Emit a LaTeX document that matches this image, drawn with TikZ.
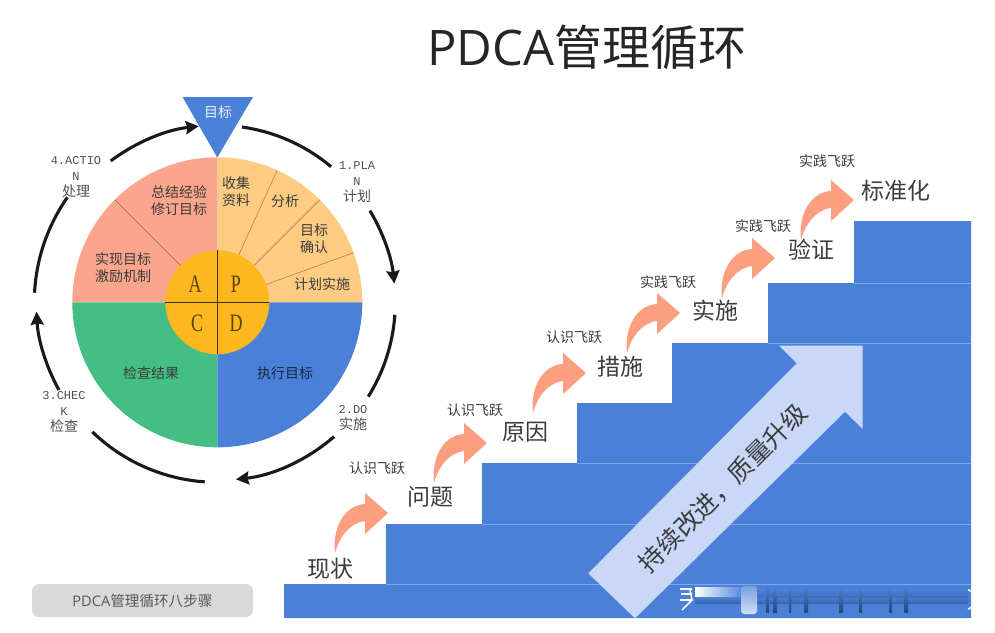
\documentclass[tikz,border=0pt]{standalone}
\usepackage{fontspec}
\setmainfont{Noto Sans CJK SC}
\newfontfamily\monofam{Liberation Mono}
\newfontfamily\serifam{Liberation Serif}
\newfontfamily\latinfam{Open Sans}
\usetikzlibrary{arrows.meta}
\usetikzlibrary{calc}
\definecolor{stairblue}{HTML}{4A80D8}
\definecolor{stairline}{HTML}{7FA8EC}
\definecolor{planorange}{HTML}{FDCB82}
\definecolor{actsalmon}{HTML}{FBA68C}
\definecolor{checkgreen}{HTML}{44BF83}
\definecolor{hubyellow}{HTML}{FDB71F}
\definecolor{jumpsalmon}{HTML}{FB9F80}
\definecolor{bigarrow}{HTML}{CAD8F8}
\definecolor{inktext}{HTML}{3C3C3C}
\definecolor{pillgray}{HTML}{D9D9D9}
\tikzset{
    wedge/.style={line width=0pt},
    spoke/.style={line width=0.6pt,draw=#1},
    ringarc/.style={line width=3.1pt,draw=black!90},
    ringtip/.style={-{Stealth[inset=1.5pt,length=13pt,width=13pt]}},
    stair/.style={fill=stairblue},
    riser/.style={line width=0.9pt,draw=stairline},
    blurstripe/.style={top color=stairblue,bottom color=stairblue!55!black},
    pietext/.style={font=\fontsize{14}{17}\selectfont,text=inktext,align=center,inner sep=0pt},
    steptext/.style={font=\fontsize{23}{26}\selectfont,text=inktext,inner sep=0pt},
    leaptext/.style={font=\fontsize{14}{16}\selectfont,text=inktext,inner sep=0pt},
    ringtext/.style={font=\fontsize{14}{16}\selectfont,text=inktext!90,align=center,inner sep=0pt},
    hubtext/.style={font=\serifam\fontsize{25}{27}\selectfont,text=black!65!hubyellow,xscale=0.72,inner sep=0pt},
    jumparrow/.pic={
        \fill[jumpsalmon] (0,0) .. controls (-3,-26) and (10,-48) .. (30,-49)
            -- (30,-60) -- (53,-40) -- (30,-19) -- (30,-32)
            .. controls (14,-30) and (4,-15) .. (0,0) -- cycle;
    },
}
\newcommand{\ringlatin}[1]{{\monofam\fontsize{12}{16}\selectfont #1}}
\begin{document}
\begin{tikzpicture}[x=1pt,y=-1pt]
        \useasboundingbox[fill=white] (0,0) rectangle (995,632);
        \coordinate (hub) at (217.3,302.3);

        \node[font=\fontsize{48}{52}\selectfont,text=black!85,inner sep=0pt] (title) at (587,47)
        {{\latinfam\fontsize{49}{52}\selectfont PDCA}管理循环};

        \fill[planorange,wedge] (hub) -- ++(0:145pt) arc[start angle=0,end angle=90,radius=145pt] -- cycle;
        \fill[actsalmon,wedge] (hub) -- ++(90:145pt) arc[start angle=90,end angle=180,radius=145pt] -- cycle;
        \fill[checkgreen,wedge] (hub) -- ++(180:145pt) arc[start angle=180,end angle=270,radius=145pt] -- cycle;
        \fill[stairblue,wedge] (hub) -- ++(270:145pt) arc[start angle=270,end angle=360,radius=145pt] -- cycle;

        \draw[spoke=black!35!planorange] ($(hub)+(65.6:52pt)$) -- ($(hub)+(65.6:145pt)$);
        \draw[spoke=black!35!planorange] ($(hub)+(45:52pt)$) -- ($(hub)+(45:145pt)$);
        \draw[spoke=black!35!planorange] ($(hub)+(20:52pt)$) -- ($(hub)+(20:145pt)$);
        \draw[spoke=black!40!actsalmon] ($(hub)+(135:52pt)$) -- ($(hub)+(135:145pt)$);

        \fill[hubyellow] (hub) circle[radius=52pt];
        \draw[line width=0.9pt,draw=black!75!hubyellow] ($(hub)+(0,-52)$) -- ($(hub)+(0,52)$);
        \draw[line width=0.9pt,draw=black!75!hubyellow] ($(hub)+(-52,0)$) -- ($(hub)+(52,0)$);

        \node[hubtext] (letterA) at (195,284) {A};
        \node[hubtext] (letterP) at (236,284) {P};
        \node[hubtext] (letterC) at (197,323) {C};
        \node[hubtext] (letterD) at (236,323) {D};

        \fill[stairblue] (182.5,97) -- (253,97) -- (217.3,157.5) -- cycle;
        \node[font=\fontsize{14}{16}\selectfont,text=white!90!stairblue,inner sep=0pt] (goal) at (218,112)
        {目标};

        \node[pietext] (collect) at (236,192) {收集\\资料};
        \node[pietext] (analyse) at (285,201) {分析};
        \node[pietext] (confirm) at (314,239) {目标\\确认};
        \node[pietext] (planrun) at (322,284) {计划实施};
        \node[pietext] (summary) at (179,201) {总结经验\\修订目标};
        \node[pietext] (reward) at (123,268) {实现目标\\激励机制};
        \node[pietext] (checkres) at (151,373) {检查结果};
        \node[pietext,text=black!70!stairblue] (dogoal) at (285,373) {执行目标};

        \node[ringtext] (plan) at (357,182) {\ringlatin{1.PLA}\\\ringlatin{N}\\计划};
        \node[ringtext] (do) at (353,418) {\ringlatin{2.DO}\\实施};
        \node[ringtext] (check) at (64,412) {\ringlatin{3.CHEC}\\\ringlatin{K}\\检查};
        \node[ringtext] (act) at (76,177) {\ringlatin{4.ACTIO}\\\ringlatin{N}\\处理};

        \draw[ringarc] (hub) ++(82:177pt) arc[start angle=82,end angle=50,radius=177pt];
        \draw[ringarc,ringtip] (hub) ++(31:178pt) arc[start angle=31,end angle=6,radius=178pt];
        \draw[ringarc] (hub) ++(-4:178pt) arc[start angle=-4,end angle=-32,radius=178pt];
        \draw[ringarc,ringtip] (hub) ++(-49:178pt) arc[start angle=-49,end angle=-84,radius=178pt];
        \draw[ringarc] (hub) ++(-94:180pt) arc[start angle=-94,end angle=-134,radius=180pt];
        \draw[ringarc,ringtip] (hub) ++(-151:181pt) arc[start angle=-151,end angle=-177,radius=181pt];
        \draw[ringarc] (hub) ++(177:183pt) arc[start angle=177,end angle=145,radius=183pt];
        \draw[ringarc,ringtip] (hub) ++(127:177pt) arc[start angle=127,end angle=96,radius=177pt];

        \fill[stair] (284,618) |- (386,584) |- (482,524) |- (577,463) |- (672,403)
            |- (768,343) |- (854,283) |- (971,221) -- (971,618) -- cycle;
        \draw[riser] (386,584) -- (971,584);
        \draw[riser] (482,524) -- (971,524);
        \draw[riser] (577,463) -- (971,463);
        \draw[riser] (768,343) -- (971,343);
        \draw[riser] (854,283) -- (971,283);

        \fill[bigarrow] (588.3,573.3) -- (796.7,363.3) -- (779,345.7) -- (862.7,345.7)
            -- (862.7,429) -- (845,411.7) -- (635,618.3) -- cycle;
        \node[font=\fontsize{25}{28}\selectfont,text=inktext,rotate=45,inner sep=0pt] (improve) at (723,488)
        {持续改进，质量升级};

        \shade[left color=white,right color=stairblue] (695,587) rectangle (745,597);
        \shade[top color=stairblue,bottom color=stairblue!80!black] (695,597) rectangle (968,603);
        \shade[top color=stairblue,bottom color=stairblue!85!black] (745,590) rectangle (968,597);
        \shade[blurstripe] (766,587) rectangle (769,612);
        \shade[blurstripe] (773,587) rectangle (777,612);
        \shade[blurstripe] (789,587) rectangle (791,612);
        \shade[blurstripe] (804,587) rectangle (808,612);
        \shade[blurstripe] (839,587) rectangle (843,612);
        \shade[blurstripe] (859,587) rectangle (862,612);
        \shade[blurstripe] (889,587) rectangle (892,612);
        \shade[blurstripe] (904,587) rectangle (908,612);
        \shade[top color=stairblue!75,bottom color=white!75!stairblue,rounded corners=3pt] (741,586) rectangle (757,614);
        \draw[white,line width=1.6pt] (680,589) -- (692,589) (681,594) -- (692,594) (680,600) -- (693,600) (690,590) -- (692,600) -- (682,610);
        \draw[white,line width=1.6pt] (968,590) .. controls (976,590) and (976,608) .. (968,609);

        \pic (jumpa) at (335,553) {jumparrow};
        \pic (jumpb) at (434,483) {jumparrow};
        \pic (jumpc) at (533,413) {jumparrow};
        \pic (jumpd) at (627,353) {jumparrow};
        \pic (jumpe) at (722,298) {jumparrow};
        \pic (jumpf) at (801,240) {jumparrow};

        \node[steptext] (now) at (330,569) {现状};
        \node[steptext] (issue) at (430,497) {问题};
        \node[steptext] (cause) at (525,432) {原因};
        \node[steptext] (measure) at (620,367) {措施};
        \node[steptext] (apply) at (715,311) {实施};
        \node[steptext] (verify) at (811,250) {验证};
        \node[steptext] (norm) at (896,191) {标准化};

        \node[leaptext] (leapa) at (377,468) {认识飞跃};
        \node[leaptext] (leapb) at (475,410) {认识飞跃};
        \node[leaptext] (leapc) at (574,337) {认识飞跃};
        \node[leaptext] (leapd) at (668,282) {实践飞跃};
        \node[leaptext] (leape) at (763,226) {实践飞跃};
        \node[leaptext] (leapf) at (827,161) {实践飞跃};

        \fill[pillgray,rounded corners=7pt] (32,584) rectangle (253,617);
        \node[font=\fontsize{14.6}{16}\selectfont,text=black!65,inner sep=0pt] (steps) at (142.5,601)
        {{\latinfam PDCA}管理循环八步骤};
    \end{tikzpicture}
\end{document}
